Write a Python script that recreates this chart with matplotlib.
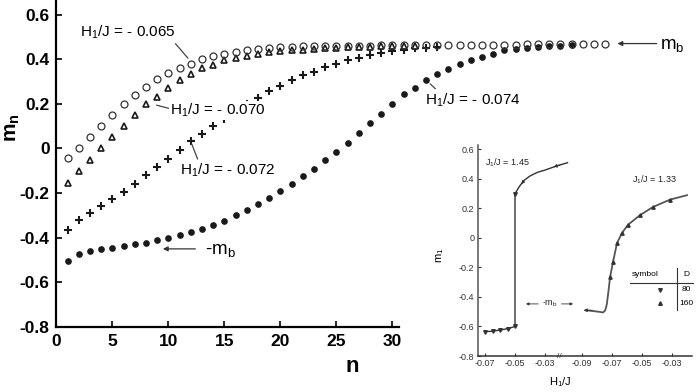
import numpy as np
import matplotlib
matplotlib.use('Agg')
import matplotlib.pyplot as plt

plt.rcParams['font.family'] = ['Liberation Sans', 'DejaVu Sans']
plt.rcParams['mathtext.fontset'] = 'custom'
plt.rcParams['mathtext.rm'] = 'Liberation Sans'
plt.rcParams['mathtext.it'] = 'Liberation Sans:italic'
plt.rcParams['mathtext.bf'] = 'Liberation Sans:bold'

# main panel: layer magnetisation m_n vs layer index n
n_circ = np.arange(1, 50)          # H1/J = -0.065
m_circ = [-0.045, 0.0, 0.05, 0.10, 0.15, 0.20, 0.24, 0.275, 0.31, 0.34,
          0.36, 0.38, 0.40, 0.414, 0.425, 0.432, 0.44, 0.445, 0.45, 0.453,
          0.455, 0.457, 0.458, 0.459, 0.46, 0.46, 0.461, 0.461, 0.462, 0.462,
          0.462, 0.463, 0.463, 0.463, 0.464, 0.464, 0.464, 0.465, 0.465, 0.465,
          0.465, 0.466, 0.466, 0.466, 0.466, 0.467, 0.467, 0.467, 0.467]

n_tri = np.arange(1, 33)           # H1/J = -0.070
m_tri = [-0.157, -0.103, -0.05, 0.0, 0.05, 0.10, 0.15, 0.20, 0.23, 0.27,
         0.305, 0.335, 0.36, 0.376, 0.395, 0.405, 0.415, 0.425, 0.432, 0.437,
         0.44, 0.443, 0.446, 0.449, 0.451, 0.453, 0.455, 0.456, 0.457, 0.458,
         0.459, 0.46]

n_cross = np.arange(1, 35)         # H1/J = -0.072
m_cross = [-0.364, -0.32, -0.29, -0.26, -0.225, -0.193, -0.158, -0.12, -0.084, -0.046,
           -0.005, 0.033, 0.066, 0.099, 0.13, 0.165, 0.197, 0.228, 0.258, 0.279,
           0.306, 0.327, 0.343, 0.365, 0.378, 0.395, 0.407, 0.417, 0.428, 0.437,
           0.443, 0.448, 0.452, 0.455]

n_dot = np.arange(1, 47)           # H1/J = -0.074
m_dot = [-0.503, -0.472, -0.458, -0.45, -0.444, -0.436, -0.428, -0.424, -0.41, -0.40,
         -0.39, -0.373, -0.36, -0.342, -0.324, -0.30, -0.278, -0.249, -0.222, -0.19,
         -0.159, -0.125, -0.09, -0.05, -0.018, 0.025, 0.07, 0.113, 0.155, 0.198,
         0.242, 0.27, 0.305, 0.335, 0.358, 0.377, 0.395, 0.41, 0.425, 0.44,
         0.445, 0.452, 0.455, 0.458, 0.46, 0.462]

m_bulk = 0.47

# inset: m_1 vs H1/J for two J1/J values (right part shifted past an axis break)
h_145 = [-0.07, -0.065, -0.06, -0.055, -0.05, -0.05, -0.047, -0.044, -0.04,
         -0.035, -0.03, -0.025, -0.02, -0.015]
m_145 = [-0.635, -0.632, -0.624, -0.615, -0.60, 0.30, 0.35, 0.39, 0.42,
         0.445, 0.46, 0.478, 0.495, 0.51]
h_133 = [-0.087, -0.083, -0.079, -0.076, -0.0745, -0.0735, -0.0725, -0.0713,
         -0.0693, -0.0667, -0.0633, -0.0593, -0.0513, -0.0427, -0.0313, -0.02]
m_133 = [-0.49, -0.495, -0.50, -0.505, -0.49, -0.45, -0.37, -0.265,
         -0.16, -0.035, 0.035, 0.09, 0.155, 0.21, 0.26, 0.29]
shift = 0.0847
in_ticks = [-0.07, -0.05, -0.03, -0.09 + shift, -0.07 + shift, -0.05 + shift, -0.03 + shift]
in_ticklabels = ['-0.07', '-0.05', '-0.03', '-0.09', '-0.07', '-0.05', '-0.03']

fig = plt.figure(figsize=(6.97, 3.92), dpi=100)
ax = fig.add_axes([56.5 / 697, 65 / 392, 627 / 697, 325.85 / 392])
ink = '#1a1a1a'

ax.plot(n_dot, m_dot, 'o', ms=3.8, color=ink, ls='none')
ax.plot(n_cross, m_cross, '+', ms=6, mew=1.5, color=ink, ls='none')
ax.plot(n_tri, m_tri, '^', ms=4.8, mfc='white', mec=ink, mew=1.2, ls='none')
ax.plot(n_circ, m_circ, 'o', ms=5, mfc='none', mec='#333333', mew=0.9, ls='none')

ax.set_xlim(0, 56)
ax.set_ylim(-0.8, 0.66)
ax.spines['top'].set_visible(False)
ax.spines['right'].set_visible(False)
ax.spines['left'].set_linewidth(1.6)
ax.spines['bottom'].set_linewidth(1.6)
ax.spines['bottom'].set_bounds(0, 30.6)
ax.set_xticks([0, 5, 10, 15, 20, 25, 30])
ax.set_yticks([-0.8, -0.6, -0.4, -0.2, 0, 0.2, 0.4, 0.6])
ax.set_yticklabels(['-0.8', '-0.6', '-0.4', '-0.2', '0', '0.2', '0.4', '0.6'])
ax.tick_params(direction='in', length=4, width=1.2, labelsize=12.5, pad=5)
for lab in ax.get_xticklabels() + ax.get_yticklabels():
    lab.set_fontweight('bold')
ax.patch.set_visible(False)

fig.text(352 / 697, 1 - 367 / 392, 'n', ha='center', va='center', fontsize=16, weight='bold')
fig.text(13 / 697, 1 - 128 / 392, r'$\mathbf{m_n}$', ha='center', va='center',
         fontsize=15, rotation=90)

lp = dict(arrowstyle='-', color='#444444', lw=0.9, shrinkA=0, shrinkB=2)
ax.annotate(r'$\mathrm{H_1/J}$ = - 0.065', xy=(11.9, 0.395), xytext=(2.1, 0.521),
            ha='left', va='center', fontsize=11,
            arrowprops=dict(lp, relpos=(0.95, 0.15)))
ax.annotate(r'$\mathrm{H_1/J}$ = - 0.070', xy=(8.7, 0.197), xytext=(10.1, 0.171),
            ha='left', va='center', fontsize=11,
            bbox=dict(boxstyle='square,pad=0.05', fc='white', ec='none'),
            arrowprops=dict(lp, relpos=(0.0, 0.6)), zorder=5)
ax.annotate(r'$\mathrm{H_1/J}$ = - 0.072', xy=(12.0, 0.03), xytext=(11.0, -0.099),
            ha='left', va='center', fontsize=11,
            arrowprops=dict(lp, relpos=(0.2, 1.0)))
ax.annotate(r'$\mathrm{H_1/J}$ = - 0.074', xy=(33.2, 0.298), xytext=(32.9, 0.216),
            ha='left', va='center', fontsize=11,
            arrowprops=dict(lp, relpos=(0.14, 1.0)))

ax.annotate('', xy=(50.1, m_bulk), xytext=(53.6, m_bulk), annotation_clip=False,
            arrowprops=dict(arrowstyle='-|>', color='#333333', lw=0.9,
                            mutation_scale=7, shrinkA=0, shrinkB=0))
ax.text(53.9, m_bulk - 0.01, r'$\mathrm{m_b}$', ha='left', va='center', fontsize=13.5,
        clip_on=False)
ax.annotate('', xy=(9.5, -0.45), xytext=(12.4, -0.45),
            arrowprops=dict(arrowstyle='-|>', color='#333333', lw=0.9,
                            mutation_scale=7, shrinkA=0, shrinkB=0))
ax.text(13.3, -0.455, r'-$\mathrm{m_b}$', ha='left', va='center', fontsize=13.5)

# inset
axi = fig.add_axes([478 / 697, 36 / 392, 214 / 697, 211 / 392])
axi.patch.set_visible(False)
axi.plot(h_145, m_145, '-', color='#333333', lw=1.0)
axi.plot(np.array(h_133) + shift, m_133, '-', color='#555555', lw=1.3)
axi.plot(h_145[:6], m_145[:6], 'v', ms=2.6, color='#333333', ls='none')
axi.plot(np.array(h_133[7:15]) + shift, m_133[7:15], '^', ms=2.4, color='#333333', ls='none')
axi.annotate('', xy=(-0.047, 0.35), xytext=(-0.043, 0.40),
             arrowprops=dict(arrowstyle='-|>', color='#333333', lw=0.6, mutation_scale=5))
axi.annotate('', xy=(-0.026, 0.476), xytext=(-0.017, 0.505),
             arrowprops=dict(arrowstyle='-|>', color='#333333', lw=0.6, mutation_scale=5))
axi.annotate('', xy=(-0.089 + shift, -0.49), xytext=(-0.083 + shift, -0.49),
             arrowprops=dict(arrowstyle='-|>', color='#333333', lw=0.6, mutation_scale=5,
                             shrinkA=0, shrinkB=0))
axi.set_xlim(-0.07467, 0.068)
axi.set_ylim(-0.8, 0.63)
axi.set_xticks(in_ticks)
axi.set_xticklabels(in_ticklabels)
axi.set_yticks([-0.8, -0.6, -0.4, -0.2, 0, 0.2, 0.4, 0.6])
axi.set_yticklabels(['-0.8', '-0.6', '-0.4', '-0.2', '0', '0.2', '0.4', '0.6'])
axi.tick_params(direction='in', length=2.5, width=0.8, labelsize=6.5, pad=2.5, colors='#333333')
axi.spines['top'].set_visible(False)
axi.spines['right'].set_visible(False)
axi.spines['left'].set_color('#555555')
axi.spines['bottom'].set_color('#333333')
axi.spines['left'].set_linewidth(1.1)
axi.spines['bottom'].set_linewidth(1.1)
axi.text(-0.0207, -0.8, '//', ha='center', va='center', fontsize=6, color='#333333')

axi.text(-0.0699, 0.508, r'$\mathrm{J_1/J}$ = 1.45', fontsize=6.5, va='center', color='#222222')
axi.text(0.028, 0.393, r'$\mathrm{J_1/J}$ = 1.33', fontsize=6.5, va='center', color='#222222')
axi.text(-0.0267, -0.447, r'-$\mathrm{m_b}$', fontsize=6.5, ha='center', va='center', color='#222222')
axi.annotate('', xy=(-0.0427, -0.447), xytext=(-0.0345, -0.447),
             arrowprops=dict(arrowstyle='-|>', color='#333333', lw=0.6, mutation_scale=4,
                             shrinkA=0, shrinkB=0))
axi.annotate('', xy=(-0.0113, -0.447), xytext=(-0.019, -0.447),
             arrowprops=dict(arrowstyle='-|>', color='#333333', lw=0.6, mutation_scale=4,
                             shrinkA=0, shrinkB=0))

# little symbol table
tr = axi.transAxes
axi.text(0.78, 0.384, 'symbol', transform=tr, fontsize=6, ha='center', va='center')
axi.text(0.972, 0.384, 'D', transform=tr, fontsize=6, ha='center', va='center')
axi.plot([0.71, 1.005], [0.346, 0.346], transform=tr, color='#333333', lw=0.8, clip_on=False)
axi.plot([0.93, 0.93], [0.218, 0.417], transform=tr, color='#333333', lw=0.8, clip_on=False)
axi.plot([0.85], [0.313], 'v', transform=tr, ms=2.6, color='#333333', clip_on=False)
axi.plot([0.85], [0.251], '^', transform=tr, ms=2.6, color='#333333', clip_on=False)
axi.text(0.972, 0.313, '80', transform=tr, fontsize=6, ha='center', va='center')
axi.text(0.972, 0.251, '160', transform=tr, fontsize=6, ha='center', va='center')

fig.text(560 / 697, 1 - 382 / 392, r'$\mathrm{H_1/J}$', ha='center', va='center', fontsize=8)
fig.text(440 / 697, 1 - 255 / 392, r'$\mathrm{m_1}$', ha='center', va='center', fontsize=8,
         rotation=90)

fig.savefig('out.png', dpi=100)
